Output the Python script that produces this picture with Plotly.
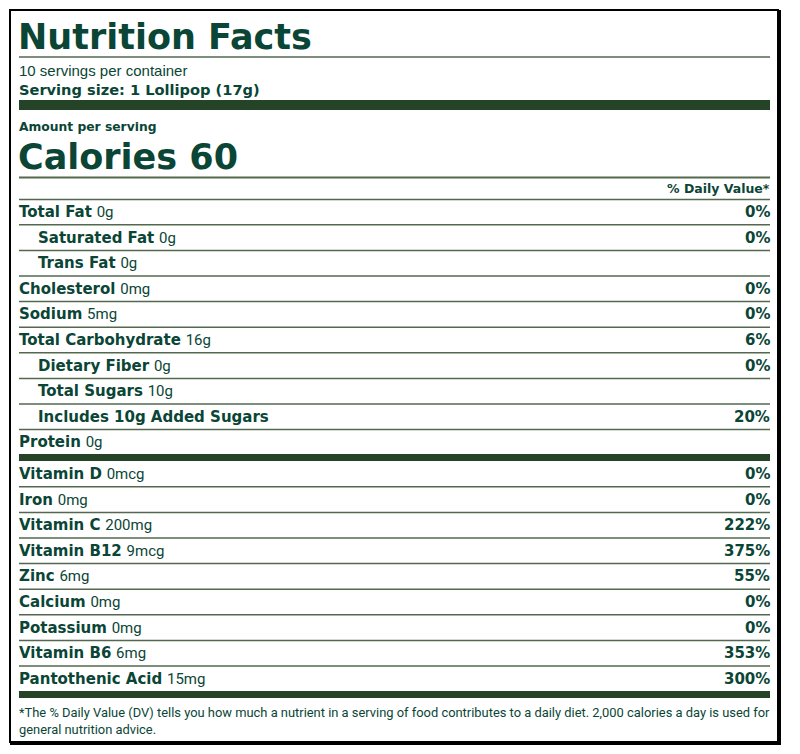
import plotly.graph_objects as go

# label data
servings_text = "10 servings per container"
serving_size = "Serving size: 1 Lollipop (17g)"
calories = 60

nutrients = ["Total Fat", "Saturated Fat", "Trans Fat", "Cholesterol", "Sodium",
             "Total Carbohydrate", "Dietary Fiber", "Total Sugars",
             "Includes 10g Added Sugars", "Protein"]
amounts = ["0g", "0g", "0g", "0mg", "5mg", "16g", "0g", "10g", "", "0g"]
daily_values = ["0%", "0%", "", "0%", "0%", "6%", "0%", "", "20%", ""]
indented = [False, True, True, False, False, False, True, True, True, False]

vitamins = ["Vitamin D", "Iron", "Vitamin C", "Vitamin B12", "Zinc", "Calcium",
            "Potassium", "Vitamin B6", "Pantothenic Acid"]
vit_amounts = ["0mcg", "0mg", "200mg", "9mcg", "6mg", "0mg", "0mg", "6mg", "15mg"]
vit_daily_values = ["0%", "0%", "222%", "375%", "55%", "0%", "0%", "353%", "300%"]

footnote = ("*The % Daily Value (DV) tells you how much a nutrient in a serving of food contributes "
            "to a daily diet. 2,000 calories a day is used for<br>general nutrition advice.")

TEXT = "#0a4536"
RULE = "#52694e"
BAR = "#254427"
BOLD = "DejaVu Sans"
NARROW = "Roboto"

LEFT, RIGHT = 19, 770
PAD = 2  # annotation box padding
ROW_H = 25.6

# page has an 8px body margin, so the plot area covers page pixels 8..792 x 8..746
OFF = 8
W, H = 800 - 2 * OFF, 754 - 2 * OFF

fig = go.Figure()
fig.add_trace(go.Scatter(x=[OFF, OFF + W], y=[OFF, OFF + H], mode="markers",
                         marker=dict(opacity=0), hoverinfo="skip", showlegend=False))

shapes = []
annotations = []


def rule(y, width=1.5, color=RULE):
    shapes.append(dict(type="line", xref="x", yref="y", x0=LEFT, x1=RIGHT, y0=y, y1=y,
                       line=dict(color=color, width=width)))


def bar(y0, y1):
    shapes.append(dict(type="rect", xref="x", yref="y", x0=LEFT, x1=RIGHT, y0=y0, y1=y1,
                       fillcolor=BAR, line=dict(width=0)))


def text(x, y, s, size, anchor="left", family=BOLD):
    x = x - PAD if anchor == "left" else x + PAD
    annotations.append(dict(x=x, y=y, xref="x", yref="y", text=s, showarrow=False,
                            xanchor=anchor, yanchor="middle",
                            font=dict(family=family, size=size, color=TEXT)))


def row_label(name, amount):
    s = f"<b>{name}</b>"
    if amount:
        s += f" <span style='font-family:{NARROW};font-weight:normal'>{amount}</span>"
    return s


# outer box with shadow
shapes.append(dict(type="rect", xref="x", yref="y", x0=10, x1=778, y0=10, y1=742,
                   line=dict(color="black", width=2)))
shapes.append(dict(type="line", xref="x", yref="y", x0=779.5, x1=779.5, y0=10, y1=744.5,
                   line=dict(color="black", width=3)))
shapes.append(dict(type="line", xref="x", yref="y", x0=10, x1=781, y0=743.5, y1=743.5,
                   line=dict(color="black", width=3)))

# header
text(LEFT - 1, 37, "<b>Nutrition Facts</b>", 35)
rule(57)
text(LEFT, 70, servings_text, 15, family="Liberation Sans")
text(LEFT, 89, f"<b>{serving_size}</b>", 14.6)
bar(100, 110)
text(LEFT, 127, "<b>Amount per serving</b>", 12.3)
text(LEFT - 1, 157, f"<b>Calories {calories}</b>", 35)
rule(177.5, 2)
text(RIGHT, 188, "<b>% Daily Value*</b>", 12.5, anchor="right")
rule(199.5)

# main nutrients
y0 = 212
for i, name in enumerate(nutrients):
    y = y0 + i * ROW_H
    x = LEFT + 19 if indented[i] else LEFT
    text(x, y, row_label(name, amounts[i]), 15)
    if daily_values[i]:
        text(RIGHT, y, f"<b>{daily_values[i]}</b>", 15, anchor="right")
    if i < len(nutrients) - 1:
        rule(y + ROW_H / 2)
bar(454, 461)

# vitamins and minerals
y0 = 474
for i, name in enumerate(vitamins):
    y = y0 + i * ROW_H
    text(LEFT, y, row_label(name, vit_amounts[i]), 15)
    text(RIGHT, y, f"<b>{vit_daily_values[i]}</b>", 15, anchor="right")
    if i < len(vitamins) - 1:
        rule(y + ROW_H / 2)
bar(691, 698)

annotations.append(dict(x=LEFT - PAD, y=721, xref="x", yref="y", text=footnote, showarrow=False,
                        xanchor="left", yanchor="middle", align="left",
                        font=dict(family=NARROW, size=12.9, color=TEXT)))

fig.update_layout(
    width=W, height=H,
    margin=dict(l=0, r=0, t=0, b=0),
    paper_bgcolor="white", plot_bgcolor="white",
    xaxis=dict(range=[OFF, OFF + W], visible=False, fixedrange=True),
    yaxis=dict(range=[OFF + H, OFF], visible=False, fixedrange=True),
    shapes=shapes, annotations=annotations,
    showlegend=False,
)

fig.write_html("out.html")
